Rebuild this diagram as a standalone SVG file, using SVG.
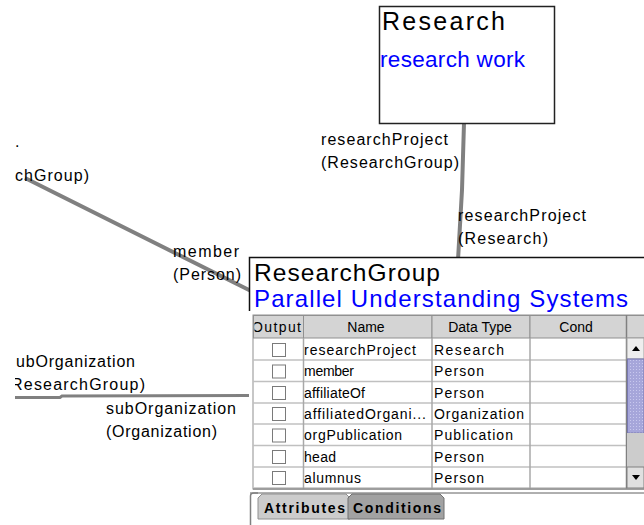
<svg xmlns="http://www.w3.org/2000/svg" width="644" height="525" viewBox="0 0 644 525">
<style>
text{font-family:"Liberation Sans",Arial,sans-serif;}
.lbl{font-size:16px;fill:#000;}
.cell{font-size:14px;fill:#000;}
.hdr{font-size:14px;fill:#000;}
.tab{font-size:14px;font-weight:bold;fill:#000;}
.conn{stroke:#808080;stroke-width:4;fill:none;}
.hcell{fill:#d4d4d4;stroke:#909090;stroke-width:1;}
.rowline{stroke:#c0c0c0;stroke-width:1.5;}
.colline{stroke:#a8a8a8;stroke-width:1.5;}
.cb{fill:#fff;stroke:#7a7a7a;stroke-width:1;}
</style>
<defs>
<clipPath id="leftclip"><rect x="15" y="0" width="629" height="525"/></clipPath>
<clipPath id="outclip"><rect x="254.5" y="315" width="49" height="23"/></clipPath>
<pattern id="dots" width="3" height="3" patternUnits="userSpaceOnUse">
<rect width="3" height="3" fill="#a6a6da"/>
<rect x="0" y="0" width="1" height="1" fill="#c8c8ee"/>
</pattern>
</defs>
<rect width="644" height="525" fill="#fff"/>

<g id="connectors">
<line class="conn" x1="25" y1="178" x2="251" y2="291"/>
<polyline class="conn" points="464,123 462,190 458,260"/>
<polyline class="conn" style="stroke-width:3" points="15,397.5 60,397.5 62,396 249,395.5"/>
</g>

<g id="connector-labels">
<text class="lbl" x="321" y="145" textLength="127" lengthAdjust="spacing">researchProject</text>
<text class="lbl" x="321" y="168" textLength="138" lengthAdjust="spacing">(ResearchGroup)</text>
<text class="lbl" x="458" y="221" textLength="128" lengthAdjust="spacing">researchProject</text>
<text class="lbl" x="458" y="244" textLength="90" lengthAdjust="spacing">(Research)</text>
<text class="lbl" x="173" y="257" textLength="66" lengthAdjust="spacing">member</text>
<text class="lbl" x="173" y="280" textLength="68" lengthAdjust="spacing">(Person)</text>
<text class="lbl" x="106" y="414" textLength="130" lengthAdjust="spacing">subOrganization</text>
<text class="lbl" x="106" y="437" textLength="111" lengthAdjust="spacing">(Organization)</text>
<g clip-path="url(#leftclip)">
<text class="lbl" x="15" y="147">.</text>
<text class="lbl" x="15" y="181" textLength="74" lengthAdjust="spacing">chGroup)</text>
<text class="lbl" x="16" y="367" textLength="119" lengthAdjust="spacing">ubOrganization</text>
<text class="lbl" x="11" y="390" textLength="134" lengthAdjust="spacing">ResearchGroup)</text>
</g>
</g>

<g id="node-research">
<rect x="379.5" y="6.5" width="175" height="117" fill="#fff" stroke="#222" stroke-width="1.5"/>
<text x="382" y="30" font-size="25" fill="#000" textLength="123" lengthAdjust="spacing">Research</text>
<text x="380" y="67" font-size="22.5" fill="#0000ff" textLength="145" lengthAdjust="spacing">research work</text>
</g>

<g id="node-researchgroup">
<rect x="249" y="257" width="400" height="270" fill="#fff"/>
<path d="M249.5,311 V257.5 H644" fill="none" stroke="#111" stroke-width="1.5"/>
<text x="254" y="281" font-size="24.5" fill="#000" textLength="186" lengthAdjust="spacing">ResearchGroup</text>
<text x="254" y="307" font-size="24" fill="#0000ff" textLength="374" lengthAdjust="spacing">Parallel Understanding Systems</text>

<!-- table -->
<rect x="253" y="315" width="391" height="174" fill="#fff" stroke="#909090" stroke-width="1"/>
<rect class="hcell" x="253.5" y="315.5" width="50" height="22.5"/>
<rect class="hcell" x="303.5" y="315.5" width="128.5" height="22.5"/>
<rect class="hcell" x="432" y="315.5" width="98" height="22.5"/>
<rect class="hcell" x="530" y="315.5" width="96.5" height="22.5"/>
<rect class="hcell" x="626.5" y="315.5" width="18" height="22.5"/>
<text class="hdr" x="301" y="332" text-anchor="end" textLength="49" lengthAdjust="spacing" clip-path="url(#outclip)">Output</text>
<text class="hdr" x="366" y="332" text-anchor="middle">Name</text>
<text class="hdr" x="480" y="332" text-anchor="middle">Data Type</text>
<text class="hdr" x="576" y="332" text-anchor="middle">Cond</text>

<g id="rows">
<line class="rowline" x1="253" y1="360" x2="627" y2="360"/>
<line class="rowline" x1="253" y1="381.5" x2="627" y2="381.5"/>
<line class="rowline" x1="253" y1="403" x2="627" y2="403"/>
<line class="rowline" x1="253" y1="424" x2="627" y2="424"/>
<line class="rowline" x1="253" y1="445.5" x2="627" y2="445.5"/>
<line class="rowline" x1="253" y1="467" x2="627" y2="467"/>
<line class="rowline" x1="253" y1="488" x2="627" y2="488"/>
<line class="colline" x1="303.5" y1="338" x2="303.5" y2="489"/>
<line class="colline" x1="432" y1="338" x2="432" y2="489"/>
<line class="colline" x1="530" y1="338" x2="530" y2="489"/>
<line x1="626.5" y1="315" x2="626.5" y2="489" stroke="#808080" stroke-width="1.5"/>

<rect class="cb" x="272.5" y="343.5" width="13" height="13"/>
<rect class="cb" x="272.5" y="365" width="13" height="13"/>
<rect class="cb" x="272.5" y="386.5" width="13" height="13"/>
<rect class="cb" x="272.5" y="407.5" width="13" height="13"/>
<rect class="cb" x="272.5" y="429" width="13" height="13"/>
<rect class="cb" x="272.5" y="450.5" width="13" height="13"/>
<rect class="cb" x="272.5" y="471.5" width="13" height="13"/>

<text class="cell" x="304" y="355" textLength="112" lengthAdjust="spacing">researchProject</text>
<text class="cell" x="304" y="376" textLength="50" lengthAdjust="spacing">member</text>
<text class="cell" x="304" y="398" textLength="61" lengthAdjust="spacing">affiliateOf</text>
<text class="cell" x="304" y="419" textLength="122" lengthAdjust="spacing">affiliatedOrgani...</text>
<text class="cell" x="304" y="440" textLength="98" lengthAdjust="spacing">orgPublication</text>
<text class="cell" x="304" y="462" textLength="32" lengthAdjust="spacing">head</text>
<text class="cell" x="304" y="483" textLength="57" lengthAdjust="spacing">alumnus</text>

<text class="cell" x="434" y="355" textLength="70" lengthAdjust="spacing">Research</text>
<text class="cell" x="434" y="376" textLength="50" lengthAdjust="spacing">Person</text>
<text class="cell" x="434" y="398" textLength="50" lengthAdjust="spacing">Person</text>
<text class="cell" x="434" y="419" textLength="90" lengthAdjust="spacing">Organization</text>
<text class="cell" x="434" y="440" textLength="79" lengthAdjust="spacing">Publication</text>
<text class="cell" x="434" y="462" textLength="50" lengthAdjust="spacing">Person</text>
<text class="cell" x="434" y="483" textLength="50" lengthAdjust="spacing">Person</text>
</g>

<g id="scrollbar">
<rect x="627" y="338" width="17" height="21" fill="#eeeeee" stroke="#a0a0a0" stroke-width="1"/>
<polygon points="632,351 640,351 636,346" fill="#000"/>
<rect x="627.5" y="359" width="16.5" height="74" fill="url(#dots)" stroke="#7878b0" stroke-width="1"/>
<rect x="627" y="433" width="17" height="34" fill="#cccccc"/>
<rect x="627" y="467" width="17" height="21" fill="#e0e0e0" stroke="#808080" stroke-width="1"/>
<polygon points="632,475 640,475 636,480" fill="#000"/>
</g>

<line x1="253" y1="489" x2="644" y2="489" stroke="#909090" stroke-width="1.5"/>
<line x1="250" y1="493" x2="644" y2="493" stroke="#606060" stroke-width="1"/>

<g id="tabs">
<path d="M250.5,525 V496 Q250.5,493 254,493 H258" fill="none" stroke="#808080" stroke-width="1.5"/>
<path d="M258,519 V498 L262,494 H346 L350,498 V519 Z" fill="#cccccc" stroke="#909090" stroke-width="1"/>
<path d="M348,519 V498 L352,494 H440 L444,498 V519 Z" fill="#a2a2a2" stroke="#707070" stroke-width="1"/>
<text class="tab" x="264" y="513" textLength="81" lengthAdjust="spacing">Attributes</text>
<text class="tab" x="353" y="513" textLength="88" lengthAdjust="spacing">Conditions</text>
</g>
</g>
</svg>
